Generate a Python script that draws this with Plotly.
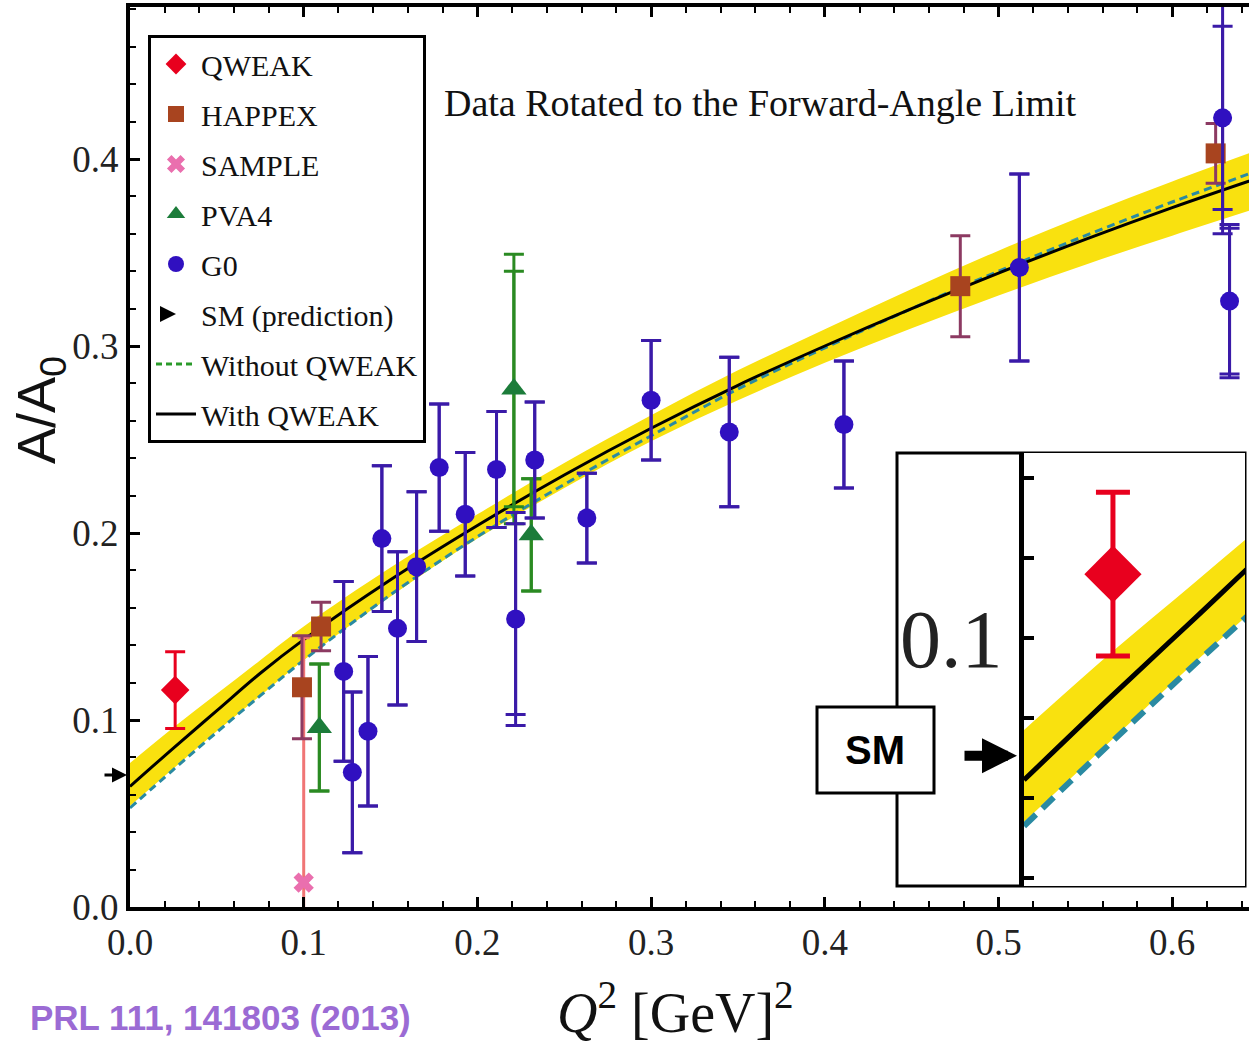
import plotly.graph_objects as go

# ---------------- data ----------------
qweak_x = [0.026]
qweak_y = [0.116]
qweak_err = [0.0205]

happex_x = [0.099, 0.110, 0.478, 0.625]
happex_y = [0.1175, 0.150, 0.332, 0.403]
happex_err = [0.0275, 0.0130, 0.0270, 0.0160]

sample_x = [0.100]
sample_y = [0.013]
sample_err = [0.131]

pva4_x = [0.109, 0.221, 0.231]
pva4_y = [0.096, 0.277, 0.199]
pva4_err = [0.034, 0.063, 0.030]
pva4_err_tot = [0.034, 0.072, 0.030]

g0_x = [0.123, 0.128, 0.137, 0.145, 0.154, 0.165, 0.178, 0.193, 0.211,
        0.222, 0.233, 0.263, 0.300, 0.345, 0.411, 0.512, 0.629, 0.633]
g0_y = [0.126, 0.072, 0.094, 0.197, 0.149, 0.182, 0.235, 0.210, 0.234,
        0.154, 0.239, 0.208, 0.271, 0.254, 0.258, 0.342, 0.422, 0.324]
g0_err = [0.048, 0.043, 0.040, 0.039, 0.041, 0.040, 0.034, 0.033, 0.031,
          0.051, 0.031, 0.024, 0.032, 0.040, 0.034, 0.050, 0.049, 0.039]
g0_err_tot = [0.048, 0.043, 0.040, 0.039, 0.041, 0.040, 0.034, 0.033, 0.031,
              0.057, 0.031, 0.024, 0.032, 0.040, 0.034, 0.050, 0.062, 0.041]

sm_value = [0.0706]

curve_x = [0.0, 0.025, 0.05, 0.075, 0.10, 0.15, 0.20, 0.25, 0.30, 0.35,
           0.40, 0.45, 0.50, 0.55, 0.60, 0.65]
with_qweak = [0.0645, 0.085, 0.105, 0.125, 0.143, 0.175, 0.204, 0.231,
              0.256, 0.279, 0.300, 0.320, 0.339, 0.357, 0.374, 0.390]
without_qweak = [0.053, 0.0735, 0.0935, 0.113, 0.132, 0.167, 0.198, 0.226,
                 0.252, 0.277, 0.299, 0.320, 0.340, 0.359, 0.377, 0.394]
band_upper = [0.077, 0.096, 0.114, 0.132, 0.150, 0.1815, 0.210, 0.2375,
              0.263, 0.287, 0.309, 0.3305, 0.351, 0.370, 0.388, 0.405]
band_lower = [0.054, 0.074, 0.094, 0.113, 0.132, 0.166, 0.197, 0.224,
              0.249, 0.271, 0.291, 0.3095, 0.327, 0.3435, 0.359, 0.374]

x_ticks = [0.0, 0.1, 0.2, 0.3, 0.4, 0.5, 0.6]
y_ticks = [0.0, 0.1, 0.2, 0.3, 0.4]
inset_y_ticks = [0.04, 0.06, 0.08, 0.10, 0.12, 0.14]
inset_y_labels = ["", "", "", "0.1", "", ""]

# ---------------- styles ----------------
SERIF = "Liberation Serif"
SANS = "Liberation Sans"
YELLOW = "#f9e10f"
TEAL = "#2a8aa2"
RED = "#e8001e"
BROWN = "#a8441f"
MAROON = "#8c3a62"
PINK = "#ea6fae"
SALMON = "#f07575"
GREEN = "#1c7c3a"
GREEN_ERR = "#2a8a22"
INDIGO = "#3010c0"
INDIGO_ERR = "#3a1aa8"

fig = go.Figure()

# band + curves (main and inset)
for xa, ya, lw_black, lw_dash, dash in [("x", "y", 3, 3, "8px,5px"),
                                         ("x2", "y2", 5, 6, "16px,9px")]:
    fig.add_trace(go.Scatter(x=curve_x, y=band_lower, mode="lines",
                             line=dict(width=0, color=YELLOW, shape="spline"),
                             showlegend=False, hoverinfo="skip", xaxis=xa, yaxis=ya))
    fig.add_trace(go.Scatter(x=curve_x, y=band_upper, mode="lines", fill="tonexty",
                             fillcolor=YELLOW, line=dict(width=0, color=YELLOW, shape="spline"),
                             showlegend=False, hoverinfo="skip", xaxis=xa, yaxis=ya))
    fig.add_trace(go.Scatter(x=curve_x, y=without_qweak, mode="lines",
                             line=dict(color=TEAL, width=lw_dash, dash=dash, shape="spline"),
                             showlegend=False, xaxis=xa, yaxis=ya))
    fig.add_trace(go.Scatter(x=curve_x, y=with_qweak, mode="lines",
                             line=dict(color="black", width=lw_black, shape="spline"),
                             showlegend=False, xaxis=xa, yaxis=ya))

# total-uncertainty outer error bars (drawn first, no markers)
fig.add_trace(go.Scatter(x=pva4_x, y=pva4_y, mode="markers",
                         marker=dict(size=1, color="rgba(0,0,0,0)"),
                         error_y=dict(type="data", array=pva4_err_tot, color=GREEN_ERR,
                                      thickness=3, width=10),
                         showlegend=False, hoverinfo="skip"))
fig.add_trace(go.Scatter(x=g0_x, y=g0_y, mode="markers",
                         marker=dict(size=1, color="rgba(0,0,0,0)"),
                         error_y=dict(type="data", array=g0_err_tot, color=INDIGO_ERR,
                                      thickness=3, width=10),
                         showlegend=False, hoverinfo="skip"))

fig.add_trace(go.Scatter(x=sample_x, y=sample_y, mode="markers", name="SAMPLE",
                         legendgroup="c", legendrank=3,
                         marker=dict(symbol="x", size=18, color=PINK),
                         error_y=dict(type="data", array=sample_err, color=SALMON,
                                      thickness=3, width=6)))
fig.add_trace(go.Scatter(x=happex_x, y=happex_y, mode="markers", name="HAPPEX",
                         legendgroup="b", legendrank=2,
                         marker=dict(symbol="square", size=20, color=BROWN),
                         error_y=dict(type="data", array=happex_err, color=MAROON,
                                      thickness=3, width=10)))
fig.add_trace(go.Scatter(x=pva4_x, y=pva4_y, mode="markers", name="PVA4",
                         legendgroup="d", legendrank=4,
                         marker=dict(symbol="triangle-up", size=22, color=GREEN),
                         error_y=dict(type="data", array=pva4_err, color=GREEN_ERR,
                                      thickness=3, width=10)))
fig.add_trace(go.Scatter(x=g0_x, y=g0_y, mode="markers", name="G0",
                         legendgroup="e", legendrank=5,
                         marker=dict(symbol="circle", size=19, color=INDIGO),
                         error_y=dict(type="data", array=g0_err, color=INDIGO_ERR,
                                      thickness=3, width=10)))
fig.add_trace(go.Scatter(x=qweak_x, y=qweak_y, mode="markers", name="QWEAK",
                         legendgroup="a", legendrank=1,
                         marker=dict(symbol="diamond", size=22, color=RED),
                         error_y=dict(type="data", array=qweak_err, color=RED,
                                      thickness=3, width=10)))

# legend-only entries
fig.add_trace(go.Scatter(x=[None], y=[None], mode="markers", name="SM (prediction)",
                         legendgroup="f", legendrank=6,
                         marker=dict(symbol="arrow-right", size=16, color="black")))
fig.add_trace(go.Scatter(x=[None], y=[None], mode="lines", name="Without QWEAK",
                         legendgroup="g", legendrank=7,
                         line=dict(color="#2a9a2a", width=3, dash="6px,4px")))
fig.add_trace(go.Scatter(x=[None], y=[None], mode="lines", name="With QWEAK",
                         legendgroup="h", legendrank=8,
                         line=dict(color="black", width=3)))

# inset QWEAK point
fig.add_trace(go.Scatter(x=qweak_x, y=qweak_y, mode="markers", showlegend=False,
                         marker=dict(symbol="diamond", size=44, color=RED),
                         error_y=dict(type="data", array=qweak_err, color=RED,
                                      thickness=5, width=17),
                         xaxis="x2", yaxis="y2"))

W, H = 1249, 1048
L, R, T, B = 130, 0, 7, 141
pw, ph = W - L - R, H - T - B
Y0_PX = 907           # pixel row of y = 0
Y_PX_PER_UNIT = 1870  # main axis scale
INSET_LO, INSET_HI = 0.038, 0.1463


def px(xp):
    return (xp - L) / pw


def py(yp):
    return (H - B - yp) / ph


fig.update_layout(
    width=W, height=H,
    margin=dict(l=L, r=R, t=T, b=B),
    paper_bgcolor="white", plot_bgcolor="white",
    showlegend=True,
    legend=dict(x=px(148), y=py(35), xanchor="left", yanchor="top",
                bgcolor="white", bordercolor="black", borderwidth=3,
                font=dict(family=SERIF, size=30, color="#111"),
                traceorder="grouped", tracegroupgap=8, itemwidth=40),
    xaxis=dict(range=[0, 0.6442], tickvals=x_ticks, ticktext=[f"{v:.1f}" for v in x_ticks],
               showgrid=False, zeroline=False, showline=True, linewidth=4,
               linecolor="black", mirror="ticks", ticks="inside", ticklen=10,
               tickwidth=3, tickcolor="black",
               minor=dict(dtick=0.02, ticks="inside", ticklen=6, tickwidth=2,
                          tickcolor="black", showgrid=False),
               tickfont=dict(family=SERIF, size=37, color="#222")),
    yaxis=dict(range=[0, 900 / 1870], tickvals=y_ticks, ticktext=[f"{v:.1f}" for v in y_ticks],
               showgrid=False, zeroline=False, showline=True, linewidth=4,
               linecolor="black", ticks="inside", ticklen=10, tickwidth=3,
               tickcolor="black",
               minor=dict(dtick=0.02, ticks="inside", ticklen=6, tickwidth=2,
                          tickcolor="black", showgrid=False),
               tickfont=dict(family=SERIF, size=37, color="#222")),
    xaxis2=dict(domain=[px(1024), px(1245)], range=[0, 0.0646], anchor="y2",
                showgrid=False, zeroline=False, showline=False, showticklabels=False,
                ticks=""),
    yaxis2=dict(domain=[py(886), py(453)], range=[INSET_LO, INSET_HI], anchor="x2",
                showgrid=False, zeroline=False, showline=True, linewidth=5,
                linecolor="black", ticks="inside", ticklen=10, tickwidth=4,
                tickcolor="black", tickvals=inset_y_ticks, ticktext=inset_y_labels,
                ticklabelstandoff=0,
                tickfont=dict(family=SERIF, size=82, color="#222")),
)

shapes = [
    dict(type="rect", xref="paper", yref="paper", x0=px(897), x1=px(1245),
         y0=py(886), y1=py(453), line=dict(color="black", width=3),
         fillcolor="white", layer="below"),
    dict(type="rect", xref="paper", yref="paper", x0=px(817), x1=px(934),
         y0=py(793), y1=py(707), line=dict(color="black", width=3),
         fillcolor="white", layer="above"),
]
fig.update_layout(shapes=shapes)

# y pixel of SM value on the main axis and in the inset
sm_main_py = Y0_PX - sm_value[0] * Y_PX_PER_UNIT
sm_inset_py = 886 - (sm_value[0] - INSET_LO) / (INSET_HI - INSET_LO) * (886 - 453)

annotations = [
    dict(text="Data Rotated to the Forward-Angle Limit", xref="paper", yref="paper",
         x=px(760), y=py(103), xanchor="center", yanchor="middle", showarrow=False,
         font=dict(family=SERIF, size=38, color="#111")),
    dict(text="<i>Q</i><sup>2</sup> [GeV]<sup>2</sup>", xref="paper", yref="paper",
         x=px(675), y=py(1008), xanchor="center", yanchor="middle", showarrow=False,
         font=dict(family=SERIF, size=56, color="#111")),
    dict(text="A/A<sub>0</sub>", xref="paper", yref="paper", x=px(40), y=py(410),
         xanchor="center", yanchor="middle", textangle=-90, showarrow=False,
         font=dict(family=SANS, size=54, color="#111")),
    dict(text="<b>PRL 111, 141803 (2013)</b>", xref="paper", yref="paper",
         x=px(28), y=py(1017), xanchor="left", yanchor="middle", showarrow=False,
         font=dict(family=SANS, size=35, color="#9b6bd4")),
    dict(text="<b>SM</b>", xref="paper", yref="paper", x=px(875), y=py(750),
         xanchor="center", yanchor="middle",
         showarrow=False, font=dict(family=SANS, size=40, color="black")),
    # SM arrow on main axis
    dict(text="", xref="paper", yref="paper", x=px(127), y=py(sm_main_py),
         ax=-24, ay=0, showarrow=True, arrowhead=2, arrowsize=1, arrowwidth=3,
         arrowcolor="black"),
    # SM arrow in inset
    dict(text="", xref="paper", yref="paper", x=px(1017), y=py(sm_inset_py),
         ax=-54, ay=0, showarrow=True, arrowhead=2, arrowsize=0.7, arrowwidth=10,
         arrowcolor="black"),
]
fig.update_layout(annotations=annotations)

fig.write_html("out.html")
